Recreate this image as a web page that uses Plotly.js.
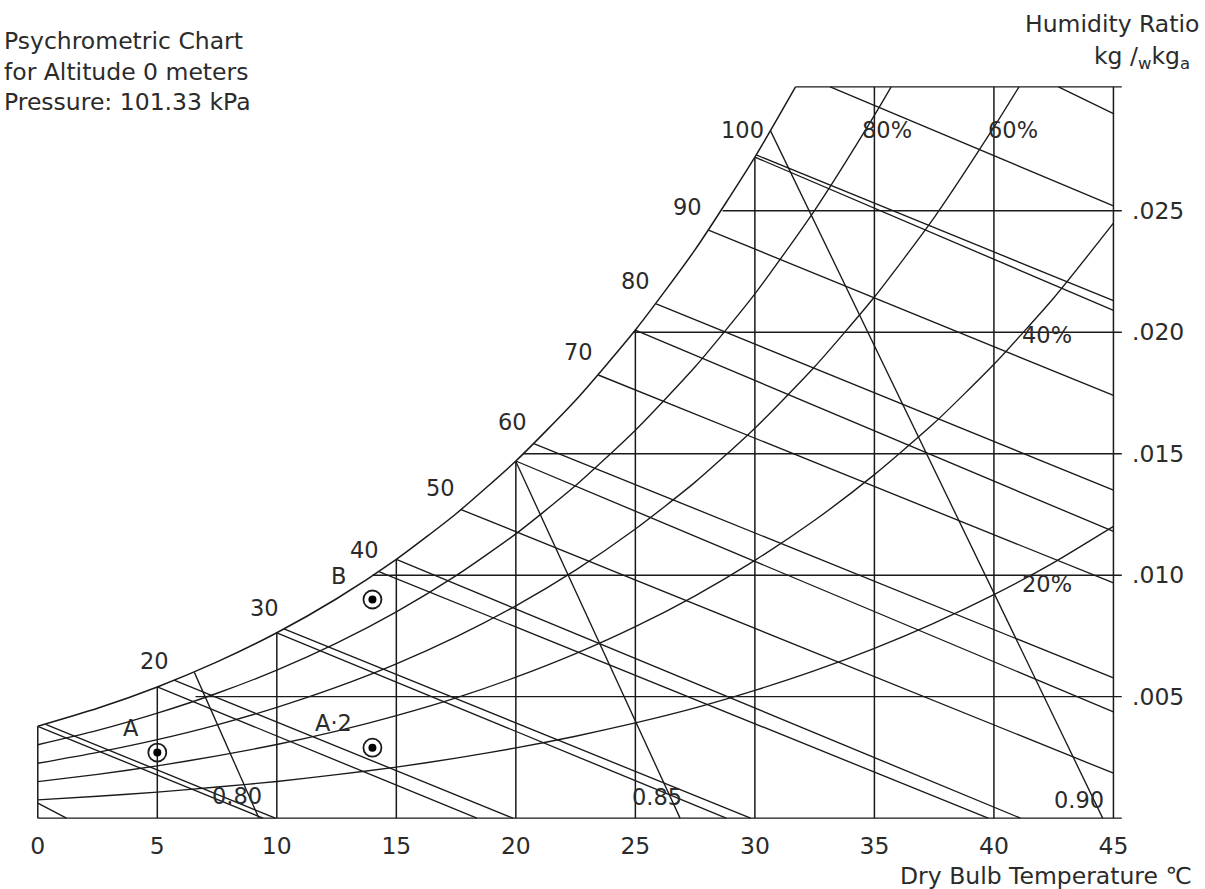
<!DOCTYPE html>
<html>
<head>
<meta charset="utf-8">
<script src="https://cdn.plot.ly/plotly-3.0.1.min.js"></script>
<style>
html,body{margin:0;padding:0;background:#ffffff;}
#chart{width:1205px;height:889px;}
</style>
</head>
<body>
<div id="chart"></div>
<script>
// ---------------- DATA ----------------
// Dry bulb temperature ticks (deg C)
const tempTicks = [0, 5, 10, 15, 20, 25, 30, 35, 40, 45];
const tempTickLabels = ['0', '5', '10', '15', '20', '25', '30', '35', '40', '45'];
// Humidity ratio ticks (kg_w / kg_a)
const humTicks = [0.005, 0.010, 0.015, 0.020, 0.025];
const humTickLabels = ['.005', '.010', '.015', '.020', '.025'];
const chartTopW = 0.0301;

// Relative humidity curves
const rh100T = [0, 2.5, 5, 7.5, 10, 12.5, 15, 17.5, 20, 22.5, 25, 27.5, 30, 31.7];
const rh100W = [0.00378, 0.00452, 0.00540, 0.00643, 0.00763, 0.00903, 0.01065, 0.01253, 0.01470, 0.01720, 0.02009, 0.02340, 0.02721, 0.0301];
const rh80T = [0, 2.5, 5, 7.5, 10, 12.5, 15, 17.5, 20, 22.5, 25, 27.5, 30, 32.5, 35, 35.7];
const rh80W = [0.00302, 0.00361, 0.00432, 0.00514, 0.00609, 0.00720, 0.00849, 0.00998, 0.01170, 0.01369, 0.01597, 0.01858, 0.02158, 0.02502, 0.02893, 0.0301];
const rh60T = [0, 2.5, 5, 7.5, 10, 12.5, 15, 17.5, 20, 22.5, 25, 27.5, 30, 32.5, 35, 37.5, 40, 41.05];
const rh60W = [0.00226, 0.00271, 0.00323, 0.00384, 0.00456, 0.00539, 0.00635, 0.00746, 0.00874, 0.01021, 0.01190, 0.01383, 0.01605, 0.01858, 0.02145, 0.02472, 0.02844, 0.0301];
const rh40T = [0, 2.5, 5, 7.5, 10, 12.5, 15, 17.5, 20, 22.5, 25, 27.5, 30, 32.5, 35, 37.5, 40, 42.5, 45];
const rh40W = [0.00150, 0.00180, 0.00215, 0.00256, 0.00303, 0.00358, 0.00422, 0.00495, 0.00580, 0.00677, 0.00788, 0.00915, 0.01061, 0.01226, 0.01414, 0.01626, 0.01868, 0.02141, 0.02449];
const rh20T = [0, 2.5, 5, 7.5, 10, 12.5, 15, 17.5, 20, 22.5, 25, 27.5, 30, 32.5, 35, 37.5, 40, 42.5, 45];
const rh20W = [0.00075, 0.00090, 0.00107, 0.00128, 0.00151, 0.00179, 0.00210, 0.00247, 0.00289, 0.00337, 0.00392, 0.00454, 0.00526, 0.00607, 0.00699, 0.00803, 0.00920, 0.01052, 0.01201];

// Dry bulb (vertical) lines: from w = 0 up to the saturation curve / chart top
const dbT    = [0, 5, 10, 15, 20, 25, 30, 35, 40, 45];
const dbTopW = [0.00378, 0.0054, 0.00763, 0.01065, 0.0147, 0.02009, 0.02721, 0.0301, 0.0301, 0.0301];

// Humidity ratio (horizontal) lines: start point to the right edge
const hrW      = [0, 0.005, 0.010, 0.015, 0.020, 0.025, 0.0301];
const hrStartT = [0, 6.6, 14.0, 20.3, 24.93, 28.65, 31.7];

// Enthalpy lines (kJ/kg)
const hVal    = [10, 20, 30, 40, 50, 60, 70, 80, 90, 100, 110, 120];
const hStartT = [0.33, 5.7, 10.3, 14.27, 17.71, 20.75, 23.45, 25.87, 28.06, 30.05, 33.15, 42.7];
const hStartW = [0.00386, 0.00568, 0.00779, 0.01015, 0.0127, 0.01542, 0.01824, 0.02117, 0.0242, 0.0273, 0.0301, 0.0301];
const hEndT   = [9.94, 19.88, 29.82, 39.76, 45, 45, 45, 45, 45, 45, 45, 45];
const hEndW   = [0, 0, 0, 0, 0.00185, 0.00577, 0.00968, 0.0135, 0.0174, 0.0213, 0.0252, 0.0290];

// Wet bulb lines (deg C)
const wbVal    = [-5, 0, 5, 10, 15, 20, 25, 30];
const wbStartT = [0, 0, 5, 10, 15, 20, 25, 30];
const wbStartW = [0.00062, 0.00378, 0.0054, 0.00763, 0.01065, 0.0147, 0.02009, 0.02721];
const wbEndT   = [1.2, 9.42, 18.37, 28.8, 41.11, 45, 45, 45];
const wbEndW   = [0, 0, 0, 0, 0, 0.00437, 0.0118, 0.0209];

// Specific volume lines (m3/kg)
const vVal    = [0.80, 0.85, 0.90];
const vStartT = [6.55, 20.0, 30.65];
const vStartW = [0.0060, 0.01468, 0.0283];
const vEndT   = [9.25, 26.87, 44.55];
const vEndW   = [0, 0, 0];

// State points
const pointNames = ['A', 'A·2', 'B'];
const pointT = [5.0, 14.0, 14.0];
const pointW = [0.0027, 0.0029, 0.0090];

// In-chart labels
const labelText = ['10', '20', '30', '40', '50', '60', '70', '80', '90', '100',
                   '80%', '60%', '40%', '20%', 'A', 'A·2', 'B', '0.80', '0.85', '0.90'];
const labelT = [-0.46, 4.9, 9.5, 13.65, 16.83, 19.88, 22.6, 24.99, 27.17, 29.5,
                35.54, 40.81, 42.24, 42.24, 3.89, 12.39, 12.6, 8.33, 25.91, 43.57];
const labelW = [0.00474, 0.00647, 0.00865, 0.01105, 0.01359, 0.01631, 0.01919, 0.02212, 0.02516, 0.02834,
                0.02834, 0.02834, 0.01989, 0.00964, 0.00371, 0.00391, 0.00998, 0.000906, 0.000865, 0.00074];

// ---------------- STYLE ----------------
const LINE = '#1a1a1a';
const TEXT = '#2b2b2b';
const FONT = 'DejaVu Sans, Verdana, sans-serif';
const FS = 23.5;
const FS_IN = 22.5;
const OVERHANG = 45.35;   // tick-like extension of horizontals past the right edge

// ---------------- BUILD ----------------
const traces = [];
function segments(x1, y1, x2, y2, width) {
  const x = [], y = [];
  for (let i = 0; i < x1.length; i++) {
    x.push(x1[i], x2[i], null);
    y.push(y1[i], y2[i], null);
  }
  traces.push({type: 'scatter', mode: 'lines', x: x, y: y,
    line: {color: LINE, width: width}, hoverinfo: 'skip', showlegend: false, connectgaps: false});
}
function curve(t, w, width) {
  traces.push({type: 'scatter', mode: 'lines', x: t, y: w,
    line: {color: LINE, width: width, shape: 'spline', smoothing: 0.6}, hoverinfo: 'skip', showlegend: false});
}

// RH curves
curve(rh100T, rh100W, 1.5);
curve(rh80T, rh80W, 1.35);
curve(rh60T, rh60W, 1.35);
curve(rh40T, rh40W, 1.35);
curve(rh20T, rh20W, 1.35);

// verticals
segments(dbT, dbT.map(() => 0), dbT, dbTopW, 1.5);
// horizontals
segments(hrStartT, hrW, hrStartT.map(() => OVERHANG), hrW, 1.4);
// enthalpy
segments(hStartT, hStartW, hEndT, hEndW, 1.35);
// wet bulb
segments(wbStartT, wbStartW, wbEndT, wbEndW, 1.35);
// specific volume
segments(vStartT, vStartW, vEndT, vEndW, 1.35);

// state points: ring + dot
traces.push({type: 'scatter', mode: 'markers', x: pointT, y: pointW, text: pointNames,
  marker: {symbol: 'circle-open', size: 18, color: LINE, line: {width: 1.8, color: LINE}},
  hoverinfo: 'text', showlegend: false, cliponaxis: false});
traces.push({type: 'scatter', mode: 'markers', x: pointT, y: pointW,
  marker: {symbol: 'circle', size: 8, color: '#000000'}, hoverinfo: 'skip', showlegend: false, cliponaxis: false});

// ---------------- LAYOUT ----------------
const W = 1205, H = 889;
const mL = 33.22, mR = 82.4, mT = 82.3, mB = 66.14;
const plotW = W - mL - mR, plotH = H - mT - mB;
const px = (x) => (x - mL) / plotW;      // pixel -> paper (x)
const py = (y) => (H - mB - y) / plotH;  // pixel -> paper (y)

const annotations = [];
for (let i = 0; i < labelText.length; i++) {
  annotations.push({x: labelT[i], y: labelW[i], xref: 'x', yref: 'y', text: labelText[i],
    showarrow: false, xanchor: 'center', yanchor: 'middle', borderpad: 0,
    font: {family: FONT, size: FS_IN, color: TEXT}});
}
// titles
annotations.push({x: px(2), y: py(25), xref: 'paper', yref: 'paper', xanchor: 'left', yanchor: 'top',
  align: 'left', showarrow: false,
  text: 'Psychrometric Chart<br>for Altitude 0 meters<br>Pressure: 101.33 kPa',
  font: {family: FONT, size: FS, color: TEXT}});
annotations.push({x: px(1201), y: py(24), xref: 'paper', yref: 'paper', xanchor: 'right', yanchor: 'middle',
  showarrow: false, text: 'Humidity Ratio', font: {family: FONT, size: FS, color: TEXT}});
annotations.push({x: px(1192), y: py(58), xref: 'paper', yref: 'paper', xanchor: 'right', yanchor: 'middle',
  showarrow: false, text: 'kg /<sub>w</sub>kg<sub>a</sub>', font: {family: FONT, size: FS, color: TEXT}});
annotations.push({x: px(1194), y: py(876), xref: 'paper', yref: 'paper', xanchor: 'right', yanchor: 'middle',
  showarrow: false, text: 'Dry Bulb Temperature ℃', font: {family: FONT, size: FS, color: TEXT}});

const layout = {
  width: W, height: H, autosize: false,
  paper_bgcolor: '#ffffff', plot_bgcolor: '#ffffff',
  margin: {l: mL, r: mR, t: mT, b: mB, pad: 0},
  font: {family: FONT, size: FS, color: TEXT},
  showlegend: false,
  xaxis: {range: [-0.2, 45.4], showgrid: false, zeroline: false, showline: false,
    tickvals: tempTicks, ticktext: tempTickLabels, ticks: '', ticklabelstandoff: 6,
    tickfont: {family: FONT, size: FS, color: TEXT}, fixedrange: true},
  yaxis: {range: [-0.0002, chartTopW + 0.0002], side: 'right', showgrid: false, zeroline: false, showline: false,
    tickvals: humTicks, ticktext: humTickLabels, ticks: '', ticklabelstandoff: 8,
    tickfont: {family: FONT, size: FS, color: TEXT}, fixedrange: true},
  annotations: annotations
};

Plotly.newPlot('chart', traces, layout, {staticPlot: true, displayModeBar: false});
</script>
</body>
</html>
